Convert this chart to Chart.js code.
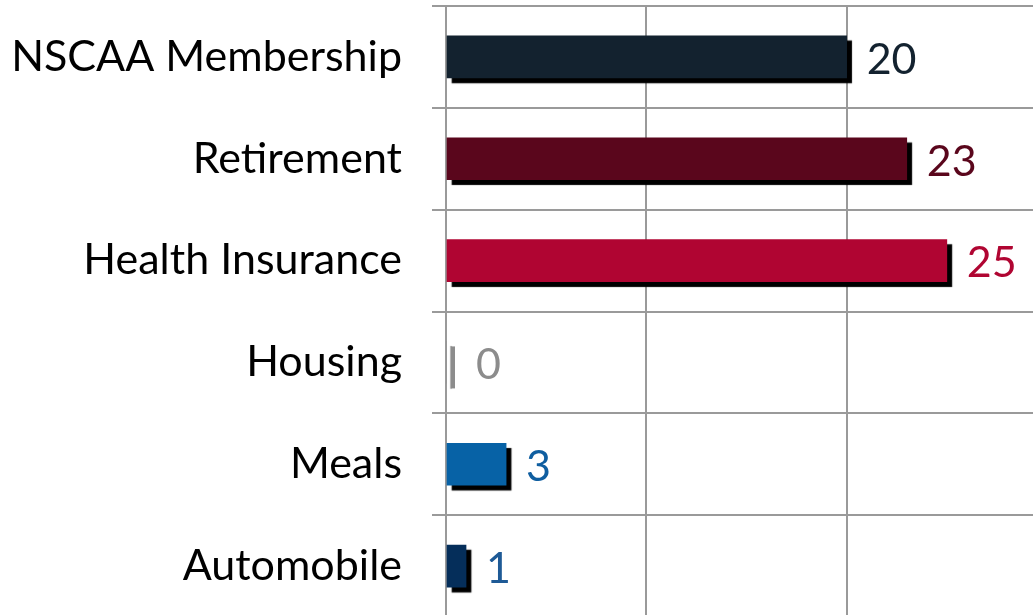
<!DOCTYPE html>
<html>
<head>
<meta charset="utf-8">
<script src="https://cdn.jsdelivr.net/npm/chart.js@4/dist/chart.umd.min.js"></script>
<style>
  html, body { margin: 0; padding: 0; overflow: hidden; background: #fff; }
  #wrap { position: relative; width: 1050px; height: 620px; }
</style>
</head>
<body>
<div id="wrap"><canvas id="benefitChart"></canvas></div>
<script>
var categories = ['NSCAA Membership', 'Retirement', 'Health Insurance', 'Housing', 'Meals', 'Automobile'];
var counts = [20, 23, 25, 0, 3, 1];
var barColors = ['#13222F', '#5A061C', '#B00532', '#8C8C8C', '#0762A6', '#052E5A'];
var labelColors = ['#13222F', '#5A061C', '#B00532', '#8C8C8C', '#0F5EA0', '#1E5A96'];
var xTicks = [0, 10, 20, 30];

var FONT = 'Lato, "Open Sans", sans-serif';
var FONT_SIZE = 43;

// drop shadow under the bars, like the Excel original
var barShadow = {
    id: 'barShadow',
    beforeDatasetsDraw: function(chart) {
        var c = chart.ctx;
        c.save();
        c.shadowColor = 'rgba(0,0,0,1)';
        c.shadowOffsetX = 5;
        c.shadowOffsetY = 5;
        c.shadowBlur = 1;
    },
    afterDatasetsDraw: function(chart) {
        chart.ctx.restore();
    }
};

// value labels at the end of each bar
var valueLabels = {
    id: 'valueLabels',
    afterDatasetsDraw: function(chart) {
        var c = chart.ctx;
        var meta = chart.getDatasetMeta(0);
        c.save();
        c.font = FONT_SIZE + 'px ' + FONT;
        c.textAlign = 'left';
        c.textBaseline = 'middle';
        meta.data.forEach(function(bar, i) {
            var gap = 20;
            if (counts[i] === 0) {
                // zero value: Excel leaves a thin grey sliver
                c.fillStyle = '#8C8C8C';
                c.fillRect(bar.x + 5, bar.y - bar.height / 2 + 5, 4, bar.height);
                gap = 30;
            }
            c.fillStyle = labelColors[i];
            c.fillText(String(counts[i]), bar.x + gap, bar.y + 3);
        });
        c.restore();
    }
};

var ctx = document.getElementById('benefitChart');
var myChart = new Chart(ctx, {
    type: 'bar',
    data: {
        labels: categories,
        datasets: [{
            data: counts,
            backgroundColor: barColors,
            barThickness: 42,
            borderWidth: 0
        }]
    },
    options: {
        indexAxis: 'y',
        responsive: true,
        maintainAspectRatio: false,
        animation: false,
        layout: { padding: { left: 0, right: 3, top: 6, bottom: 3 } },
        plugins: {
            legend: { display: false },
            tooltip: { enabled: false }
        },
        scales: {
            x: {
                min: 0,
                max: 30,
                afterBuildTicks: function(scale) {
                    scale.ticks = xTicks.map(function(v) { return { value: v }; });
                },
                afterFit: function(scale) { scale.height = 0; },
                ticks: { display: false },
                grid: { color: '#9A9A9A', lineWidth: 2, drawTicks: false },
                border: { display: false }
            },
            y: {
                afterFit: function(scale) {
                    scale.width = 446;
                    scale.paddingTop = 0;
                    scale.paddingBottom = 0;
                },
                ticks: {
                    color: '#000',
                    font: { family: FONT, size: FONT_SIZE },
                    padding: 30
                },
                grid: { color: '#9A9A9A', lineWidth: 2, tickLength: 14, offset: true },
                border: { color: '#9A9A9A', width: 2 }
            }
        }
    },
    plugins: [barShadow, valueLabels]
});
</script>
</body>
</html>
